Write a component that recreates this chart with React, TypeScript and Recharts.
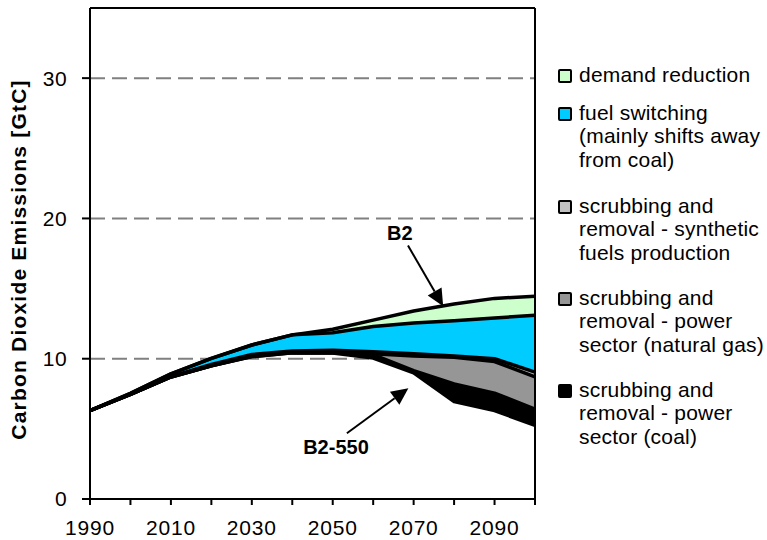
import React from "react";
import {
  ComposedChart,
  Area,
  Line,
  XAxis,
  YAxis,
  CartesianGrid,
  ReferenceLine,
  ReferenceDot,
} from "recharts";

const FONT = '"Liberation Sans", Arial, sans-serif';

// decades, GtC per component (stack from the B2-550 path up to B2)
const years = [1990, 2000, 2010, 2020, 2030, 2040, 2050, 2060, 2070, 2080, 2090, 2100];
const b2_550 = [6.3, 7.45, 8.7, 9.5, 10.15, 10.43, 10.4, 10.05, 9.0, 6.95, 6.3, 5.25];
const coal = [0, 0, 0, 0, 0, 0, 0, 0.25, 0.15, 1.25, 1.25, 1.15];
const naturalGas = [0, 0, 0, 0, 0.05, 0.05, 0.1, 0.05, 1.05, 1.9, 2.25, 2.3];
const synFuels = [0, 0, 0.02, 0.1, 0.1, 0.07, 0.1, 0.15, 0.15, 0.1, 0.2, 0.35];
const fuelSwitching = [0, 0.08, 0.2, 0.42, 0.68, 1.15, 1.25, 1.8, 2.2, 2.5, 2.9, 4.05];
const demandReduction = [0, 0, 0, 0, 0, 0, 0.25, 0.45, 0.85, 1.2, 1.4, 1.35];

const xTicks = [1990, 2000, 2010, 2020, 2030, 2040, 2050, 2060, 2070, 2080, 2090, 2100];
const yTicks = [0, 10, 20, 30];

const legendItems = [
  { top: 63, color: "#ccffcc", lines: ["demand reduction"] },
  { top: 101, color: "#00ccff", lines: ["fuel switching", "(mainly shifts away", "from coal)"] },
  { top: 194, color: "#c0c0c0", lines: ["scrubbing and", "removal - synthetic", "fuels production"] },
  { top: 286, color: "#969696", lines: ["scrubbing and", "removal - power", "sector (natural gas)"] },
  { top: 378, color: "#000000", lines: ["scrubbing and", "removal - power", "sector (coal)"] },
];

const data = years.map((year, i) => ({
  year,
  base: b2_550[i],
  coal: coal[i],
  gas: naturalGas[i],
  syn: synFuels[i],
  fuel: fuelSwitching[i],
  demand: demandReduction[i],
}));

const sum = (d: any, keys: string[]) => keys.reduce((s, k) => s + d[k], 0);
const order = ["base", "coal", "gas", "syn", "fuel", "demand"];

const Arrow = (props: any) => {
  const { x1, y1, x2, y2 } = props;
  const ang = Math.atan2(y2 - y1, x2 - x1);
  const len = 17;
  const half = 8;
  const bx = x2 - len * Math.cos(ang);
  const by = y2 - len * Math.sin(ang);
  const px = -Math.sin(ang) * half;
  const py = Math.cos(ang) * half;
  return (
    <g>
      <line x1={x1} y1={y1} x2={bx} y2={by} stroke="#000" strokeWidth={2} />
      <polygon points={`${x2},${y2} ${bx + px},${by + py} ${bx - px},${by - py}`} fill="#000" />
    </g>
  );
};

const note = (text: string) => (p: any) => (
  <text
    x={p.cx}
    y={p.cy}
    textAnchor="middle"
    dominantBaseline="central"
    fontFamily={FONT}
    fontWeight="bold"
    fontSize={20}
  >
    {text}
  </text>
);

const YTitle = (p: any) => {
  const vb = p.viewBox || { y: 8, height: 491 };
  const cy = vb.y + vb.height / 2 + 6;
  return (
    <text
      x={18}
      y={cy}
      transform={`rotate(-90, 18, ${cy})`}
      textAnchor="middle"
      dominantBaseline="central"
      fontFamily={FONT}
      fontWeight="bold"
      fontSize={21}
      letterSpacing={1.2}
    >
      Carbon Dioxide Emissions [GtC]
    </text>
  );
};

export default function App() {
  return (
    <div style={{ position: "fixed", left: 0, top: 0, width: 767, height: 540, background: "#fff" }}>
      <ComposedChart
        width={767}
        height={540}
        data={data}
        margin={{ top: 8, right: 232, left: 0, bottom: 0 }}
      >
        <CartesianGrid
          horizontal
          vertical={false}
          stroke="#808080"
          strokeWidth={2}
          strokeDasharray="15 7"
        />
        <XAxis
          dataKey="year"
          type="number"
          domain={[1990, 2100]}
          ticks={xTicks}
          interval={0}
          tickFormatter={(v: number) => ((v - 1990) % 20 === 0 && v < 2100 ? String(v) : "")}
          height={41}
          tickSize={6}
          tickMargin={15}
          axisLine={{ stroke: "#000", strokeWidth: 2 }}
          tickLine={{ stroke: "#000", strokeWidth: 2 }}
          tick={{ fill: "#000", fontSize: 21, fontFamily: FONT, letterSpacing: 0.8 }}
        />
        <YAxis
          type="number"
          domain={[0, 35]}
          ticks={yTicks}
          width={90}
          tickSize={8}
          tickMargin={15}
          axisLine={{ stroke: "#000", strokeWidth: 2 }}
          tickLine={{ stroke: "#000", strokeWidth: 2 }}
          tick={{ fill: "#000", fontSize: 21, fontFamily: FONT, letterSpacing: 0.4 }}
          label={{ content: YTitle }}
        />
        <Area dataKey="base" stackId="a" type="linear" stroke="none" fill="#fff" fillOpacity={0} isAnimationActive={false} />
        <Area dataKey="coal" stackId="a" type="linear" stroke="none" fill="#000000" fillOpacity={1} isAnimationActive={false} />
        <Area dataKey="gas" stackId="a" type="linear" stroke="none" fill="#969696" fillOpacity={1} isAnimationActive={false} />
        <Area dataKey="syn" stackId="a" type="linear" stroke="none" fill="#c0c0c0" fillOpacity={1} isAnimationActive={false} />
        <Area dataKey="fuel" stackId="a" type="linear" stroke="none" fill="#00ccff" fillOpacity={1} isAnimationActive={false} />
        <Area dataKey="demand" stackId="a" type="linear" stroke="none" fill="#ccffcc" fillOpacity={1} isAnimationActive={false} />
        {order.map((k, i) => (
          <Line
            key={k}
            dataKey={(d: any) => sum(d, order.slice(0, i + 1))}
            type="linear"
            stroke="#000"
            strokeWidth={3.5}
            strokeLinejoin="round"
            dot={false}
            activeDot={false}
            isAnimationActive={false}
          />
        ))}
        <ReferenceLine y={35} stroke="#000" strokeWidth={2} />
        <ReferenceLine x={2100} stroke="#000" strokeWidth={2} />
        <ReferenceLine
          segment={[{ x: 2068.6, y: 18.07 }, { x: 2077.3, y: 13.74 }]}
          shape={Arrow}
        />
        <ReferenceLine
          segment={[{ x: 2053.5, y: 4.69 }, { x: 2068.7, y: 7.9 }]}
          shape={Arrow}
        />
        <ReferenceDot x={2066.6} y={18.93} r={3} shape={note("B2")} />
        <ReferenceDot x={2050.8} y={3.68} r={3} shape={note("B2-550")} />
      </ComposedChart>
      {legendItems.map((it) => (
        <div
          key={it.top}
          style={{
            position: "absolute",
            left: 558,
            top: it.top,
            fontFamily: FONT,
            fontSize: 21,
            lineHeight: "23.3px",
            letterSpacing: 0.2,
            color: "#000",
            whiteSpace: "nowrap",
          }}
        >
          <span
            style={{
              position: "absolute",
              left: 0,
              top: 6,
              width: 10,
              height: 10,
              border: "2px solid #000",
              borderRadius: 2,
              background: it.color,
            }}
          />
          <div style={{ marginLeft: 21 }}>
            {it.lines.map((l) => (
              <div key={l}>{l}</div>
            ))}
          </div>
        </div>
      ))}
    </div>
  );
}
